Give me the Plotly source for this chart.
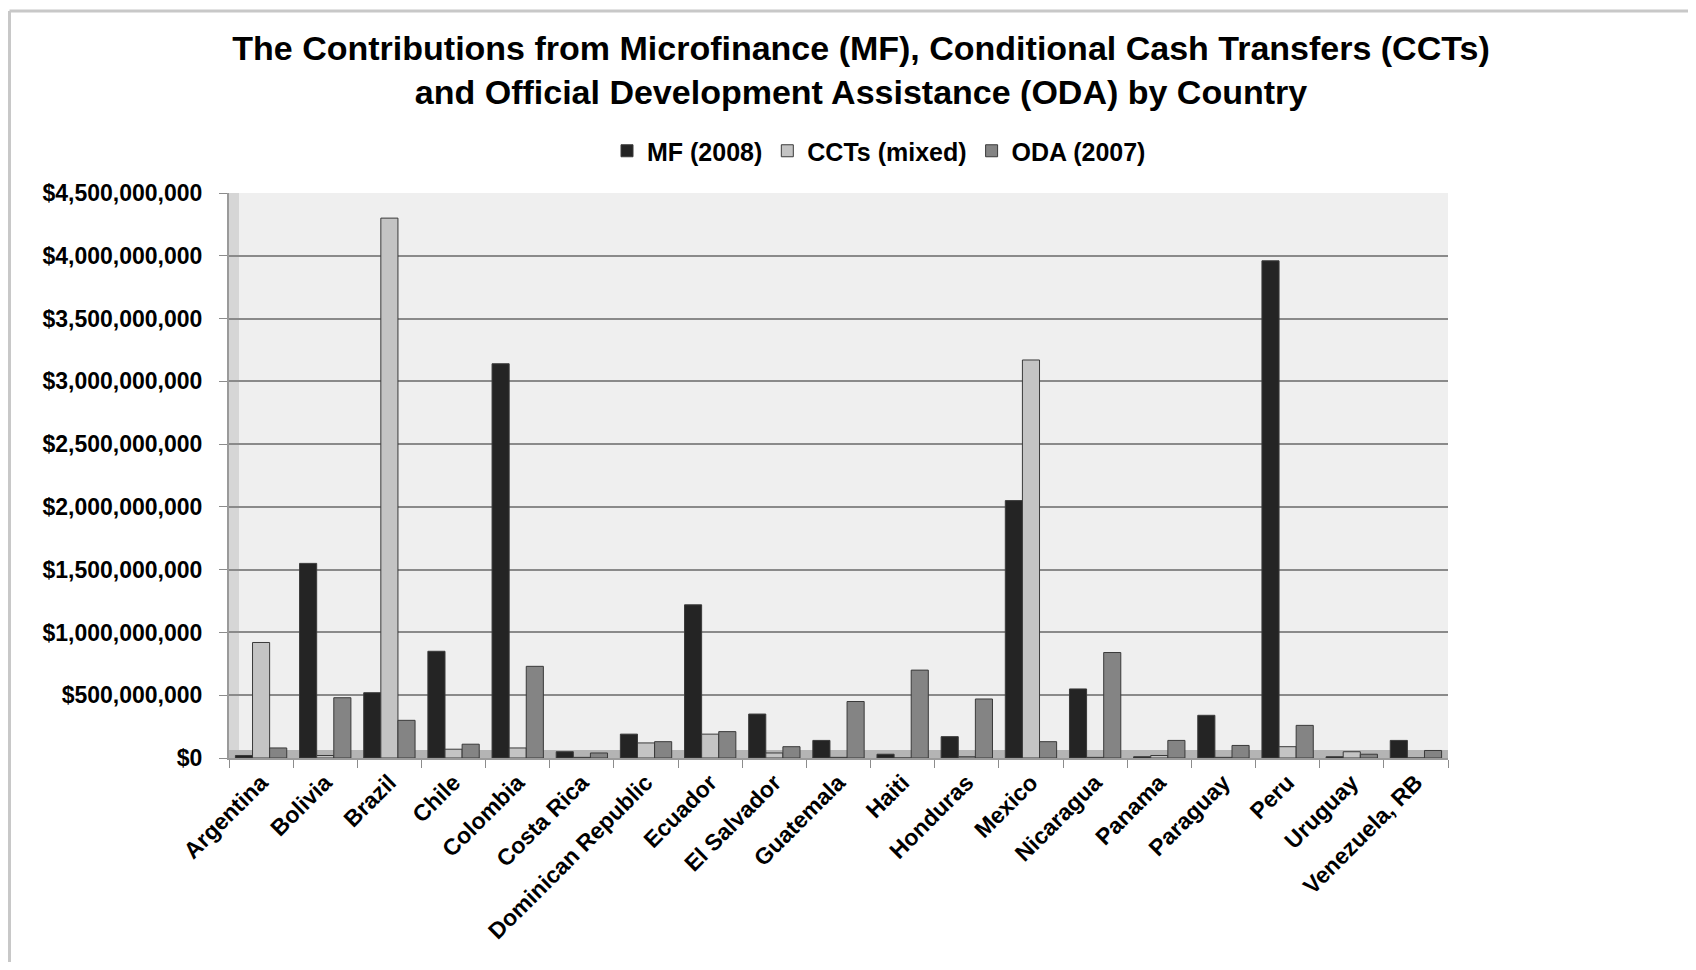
import plotly.graph_objects as go

countries = ["Argentina", "Bolivia", "Brazil", "Chile", "Colombia", "Costa Rica",
             "Dominican Republic", "Ecuador", "El Salvador", "Guatemala", "Haiti",
             "Honduras", "Mexico", "Nicaragua", "Panama", "Paraguay", "Peru",
             "Uruguay", "Venezuela, RB"]

mf_2008 = [20e6, 1550e6, 520e6, 850e6, 3140e6, 50e6, 190e6, 1220e6, 350e6, 140e6,
           30e6, 170e6, 2050e6, 550e6, 10e6, 340e6, 3960e6, 10e6, 140e6]
ccts_mixed = [920e6, 20e6, 4300e6, 70e6, 80e6, 5e6, 120e6, 190e6, 40e6, 5e6,
              0, 10e6, 3170e6, 5e6, 20e6, 5e6, 90e6, 50e6, 0]
oda_2007 = [80e6, 480e6, 300e6, 110e6, 730e6, 40e6, 130e6, 210e6, 90e6, 450e6,
            700e6, 470e6, 130e6, 840e6, 140e6, 100e6, 260e6, 30e6, 60e6]

series = [
    ("MF (2008)", mf_2008, "#242424"),
    ("CCTs (mixed)", ccts_mixed, "#c4c4c4"),
    ("ODA (2007)", oda_2007, "#848484"),
]

FONT = "Liberation Sans, Arial, sans-serif"

fig = go.Figure()
for name, vals, color in series:
    fig.add_trace(go.Bar(
        x=countries, y=vals, name=name,
        marker=dict(color=color, line=dict(color="#3a3a3a", width=1)),
    ))

# figure size leaves room for the page's 8px body margin
W, H = 1680, 954
# plot area in figure pixels
L, R, T, B = 221, 1440, 185, 750


def px_x(p):
    return (p - L) / (R - L)


def px_y(p):
    return (B - p) / (B - T)


fig.update_layout(
    width=W, height=H,
    margin=dict(l=L, r=W - R, t=T, b=H - B, autoexpand=False),
    paper_bgcolor="white",
    plot_bgcolor="#efefef",
    barmode="group",
    bargap=0.2,
    bargroupgap=0.0,
    font=dict(family=FONT, size=23, color="black", weight="bold"),
    title=dict(
        text="The Contributions from Microfinance (MF), Conditional Cash Transfers (CCTs)"
             "<br>and Official Development Assistance (ODA) by Country",
        x=853 / W, xanchor="center",
        y=1 - 52 / H, yanchor="top",
        font=dict(family=FONT, size=34, color="black", weight="bold"),
    ),
    legend=dict(
        orientation="h",
        x=px_x(871), xanchor="center",
        y=px_y(143), yanchor="middle",
        font=dict(family=FONT, size=25, color="black", weight="bold"),
        itemwidth=30,
        traceorder="normal",
    ),
    showlegend=True,
)

fig.update_xaxes(
    tickangle=-45,
    ticks="outside", tickson="boundaries", ticklen=8, tickcolor="#8c8c8c",
    showline=True, linecolor="#9a9a9a", linewidth=2,
    showgrid=False,
    tickfont=dict(family=FONT, size=23, color="black", weight="bold"),
)

fig.update_yaxes(
    range=[0, 4.5e9], dtick=5e8,
    tickprefix="$", tickformat=",d",
    ticks="outside", ticklen=8, tickcolor="#8c8c8c",
    ticklabelstandoff=12,
    showline=True, linecolor="#9a9a9a", linewidth=2,
    showgrid=True, gridcolor="#8a8a8a", gridwidth=2,
    zeroline=False,
    tickfont=dict(family=FONT, size=23, color="black", weight="bold"),
)

# side wall and floor of the pseudo-3D frame
fig.add_shape(type="rect", xref="paper", yref="paper", layer="below",
              x0=0, x1=px_x(L + 10), y0=0, y1=1,
              fillcolor="#d6d6d6", line=dict(width=0))
fig.add_shape(type="rect", xref="paper", yref="paper", layer="below",
              x0=0, x1=1, y0=0, y1=px_y(B - 8),
              fillcolor="#b4b4b4", line=dict(width=0))

# outer chart border (top and left edges visible in the picture)
fig.add_shape(type="line", xref="paper", yref="paper",
              x0=px_x(1.5), x1=px_x(W + 5), y0=px_y(3), y1=px_y(3),
              line=dict(color="#c8c8c8", width=3))
fig.add_shape(type="line", xref="paper", yref="paper",
              x0=px_x(1.5), x1=px_x(1.5), y0=px_y(3), y1=px_y(H + 5),
              line=dict(color="#c8c8c8", width=3))

fig.write_html("out.html")
